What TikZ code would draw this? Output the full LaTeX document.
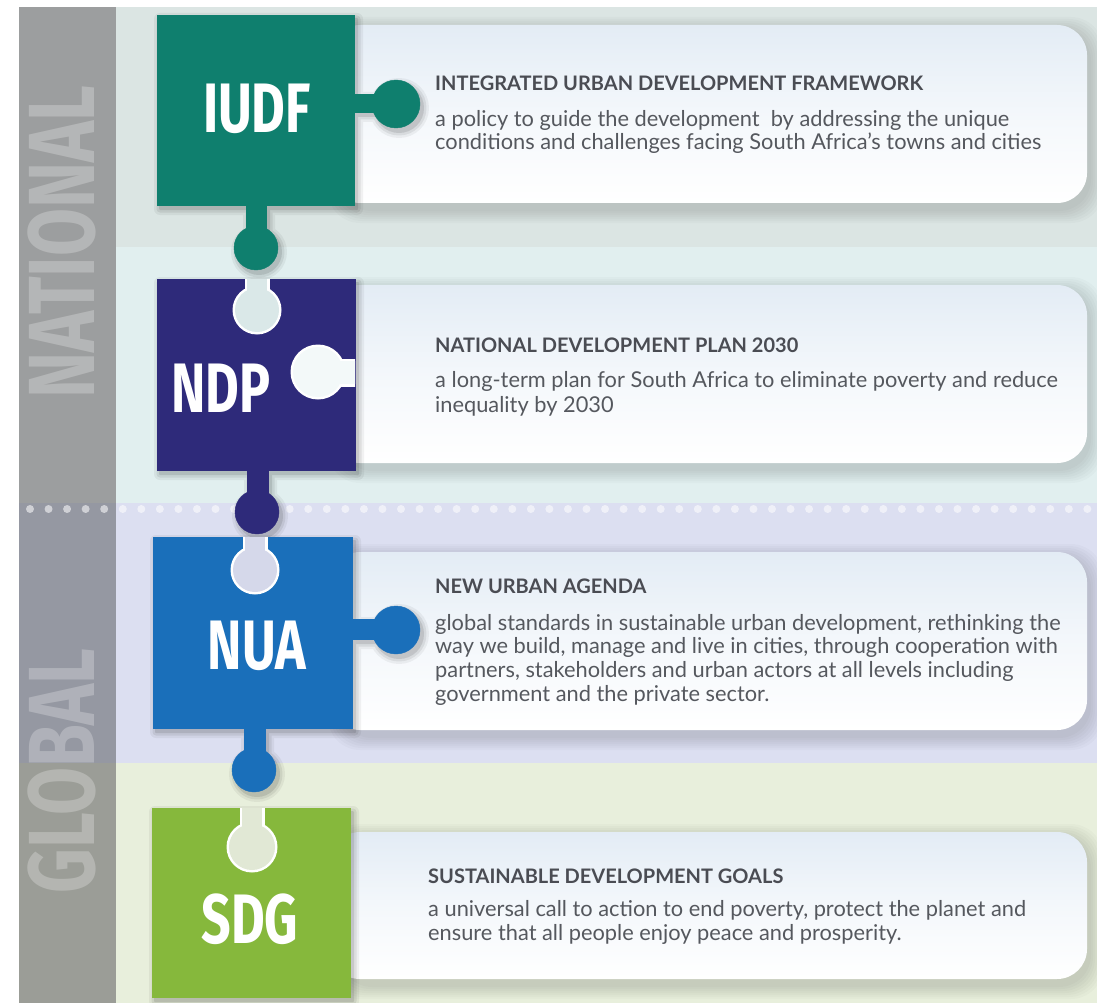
\documentclass[tikz,border=0pt]{standalone}
\usepackage{fontspec}
\setmainfont{Lato}
\newfontfamily\condfont[FakeStretch=0.74]{Fira Sans}
\definecolor{cIUDF}{HTML}{0F7F6E}
\definecolor{cNDP}{HTML}{2E2A7A}
\definecolor{cNUA}{HTML}{1A6FBA}
\definecolor{cSDG}{HTML}{86B83C}
\definecolor{bandA}{HTML}{DBE5E3}
\definecolor{bandB}{HTML}{E1EFEF}
\definecolor{bandC}{HTML}{DCDFF1}
\definecolor{bandD}{HTML}{E8EFDC}
\definecolor{stripA}{HTML}{9C9E9F}
\definecolor{stripC}{HTML}{9598A2}
\definecolor{stripD}{HTML}{9B9D97}
\definecolor{titlecol}{HTML}{4A4C53}
\definecolor{bodycol}{HTML}{55585E}
\definecolor{boxtop}{HTML}{E3ECF5}
\tikzset{
  titletext/.style={anchor=base west,inner sep=0pt,text=titlecol,font=\bfseries\fontsize{20}{24}\selectfont},
  bodytext/.style={anchor=base west,inner sep=0pt,text=bodycol,font=\fontsize{21.8}{24}\selectfont},
  piecetext/.style={inner sep=0pt,text=white,font=\condfont\bfseries\fontsize{70}{70}\selectfont},
  striptext/.style={inner sep=0pt,rotate=90,text=white,text opacity=0.25,font=\condfont\bfseries\fontsize{94}{94}\selectfont},
  infobox/.style={top color=boxtop,bottom color=white,middle color=white!60!boxtop,rounded corners=30pt},
}
% soft shadow for a box
\newcommand\boxshadow[4]{%
  \foreach \k in {2,4,...,14}{%
    \fill[black,opacity=0.018,rounded corners=32pt] (#1-\k+2,#2-\k+6) rectangle (#3+\k+2,#4+\k+6);
  }%
}
\newcommand\pieceshadow[1]{%
  \foreach \w/\o in {12/0.05,7/0.07,2/0.10}{%
    \begin{scope}[transparency group,opacity=\o,shift={(3,4)}]
      #1{black,draw=black,line width=\w pt,line join=round}
    \end{scope}
  }%
}
\newcommand\iudfshape[1]{%
  \filldraw[#1] (157,15) rectangle (354,205);
  \filldraw[#1] (350,94) rectangle (380,112);
  \filldraw[#1] (396,104) circle[radius=24];
  \filldraw[#1] (246,200) rectangle (266,236);
  \filldraw[#1] (256,248) circle[radius=22];
}
\newcommand\ndpshape[1]{%
  \filldraw[#1] (157,279) rectangle (355,470);
  \filldraw[#1] (247,465) rectangle (268,500);
  \filldraw[#1] (257,512) circle[radius=22];
}
\newcommand\nuashape[1]{%
  \filldraw[#1] (153,537) rectangle (352,728);
  \filldraw[#1] (348,619) rectangle (378,639);
  \filldraw[#1] (396,630) circle[radius=24];
  \filldraw[#1] (244,724) rectangle (265,758);
  \filldraw[#1] (254,770) circle[radius=22];
}
\newcommand\sdgshape[1]{%
  \filldraw[#1] (152,808) rectangle (350,997);
}
% keyhole: #1 hole colour, #2 cx, #3 cy, #4 r, neck from (#5,#6) to (#7,#8)
\newcommand\keyhole[8]{%
  \fill[white] (#2,#3) circle[radius=#4+2.5];
  \fill[white] (#5-2.5,#6-2.5) rectangle (#7+2.5,#8+2.5);
  \fill[#1] (#2,#3) circle[radius=#4];
  \fill[#1] (#5,#6) rectangle (#7,#8);
}
\begin{document}
\begin{tikzpicture}[x=1pt,y=-1pt]
\useasboundingbox (0,0) rectangle (1097,1003);
\fill[white] (0,0) rectangle (1097,1003);
% background bands
\fill[bandA] (19,7) rectangle (1097,247);
\fill[bandB] (19,247) rectangle (1097,503);
\fill[bandC] (19,503) rectangle (1097,763);
\fill[bandD] (19,763) rectangle (1097,1003);
% left strip
\fill[stripA] (19,7) rectangle (116,503);
\fill[stripC] (19,503) rectangle (116,763);
\fill[stripD] (19,763) rectangle (116,1003);
\node[striptext] (national) at (62,242) {NATIONAL};
\node[striptext] (global) at (62,771) {GLOBAL};
% dotted divider
\foreach \i in {0,...,57}{
  \fill[white,opacity=0.55] (30+18.55*\i,509) circle[radius=4];
}
% info boxes
\boxshadow{340}{25}{1087}{203}
\boxshadow{340}{285}{1087}{463}
\boxshadow{340}{552}{1087}{730}
\boxshadow{340}{832}{1087}{979}
\shade[infobox] (330,25) rectangle (1087,203);
\shade[infobox] (330,285) rectangle (1087,463);
\shade[infobox] (330,552) rectangle (1087,730);
\shade[infobox] (330,832) rectangle (1087,979);
% puzzle pieces
\pieceshadow{\iudfshape}
\pieceshadow{\ndpshape}
\pieceshadow{\nuashape}
\pieceshadow{\sdgshape}
\iudfshape{cIUDF}
\ndpshape{cNDP}
\nuashape{cNUA}
\sdgshape{cSDG}
% holes
\begin{scope}
  \clip (157,279) rectangle (355,470);
  \keyhole{bandB!95!black!60!bandB}{257}{310}{22}{247}{270}{267}{300}
  \keyhole{bandB!40!white}{318}{372}{25}{318}{361}{370}{384}
\end{scope}
\begin{scope}
  \clip (153,537) rectangle (352,728);
  \keyhole{bandC!95!black!60!bandC}{255}{570}{22}{245}{528}{265}{560}
\end{scope}
\begin{scope}
  \clip (152,808) rectangle (350,997);
  \keyhole{bandD!95!black!60!bandD}{252}{847}{23}{242}{800}{262}{835}
\end{scope}
% piece labels
\node[piecetext] (iudf) at (257,109) {IUDF};
\node[piecetext] (ndp) at (221,388) {NDP};
\node[piecetext] (nua) at (257,646) {NUA};
\node[piecetext] (sdg) at (250,919) {SDG};
% texts
\node[titletext] (iudf-t) at (435,91) {INTEGRATED URBAN DEVELOPMENT FRAMEWORK};
\node[bodytext] (iudf-1) at (435,127) {a policy to guide the development\ \ by addressing the unique};
\node[bodytext] (iudf-2) at (435,150) {conditions and challenges facing South Africa's towns and cities};
\node[titletext] (ndp-t) at (435,352) {NATIONAL DEVELOPMENT PLAN 2030};
\node[bodytext] (ndp-1) at (435,387) {a long-term plan for South Africa to eliminate poverty and reduce};
\node[bodytext] (ndp-2) at (435,412) {inequality by 2030};
\node[titletext] (nua-t) at (435,593) {NEW URBAN AGENDA};
\node[bodytext] (nua-1) at (435,630) {global standards in sustainable urban development, rethinking the};
\node[bodytext] (nua-2) at (435,653) {way we build, manage and live in cities, through cooperation with};
\node[bodytext] (nua-3) at (435,677) {partners, stakeholders and urban actors at all levels including};
\node[bodytext] (nua-4) at (435,701) {government and the private sector.};
\node[titletext] (sdg-t) at (428,883) {SUSTAINABLE DEVELOPMENT GOALS};
\node[bodytext] (sdg-1) at (428,916) {a universal call to action to end poverty, protect the planet and};
\node[bodytext] (sdg-2) at (428,940) {ensure that all people enjoy peace and prosperity.};
\end{tikzpicture}
\end{document}
